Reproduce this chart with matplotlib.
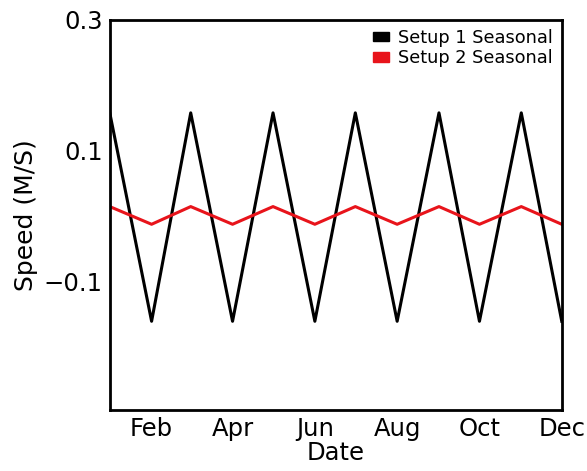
import numpy as np
import pandas as pd
import matplotlib
matplotlib.use("Agg")
import matplotlib.pyplot as plt
import matplotlib.dates as mdates
from matplotlib.patches import Patch

# monthly seasonal component, Jan .. Dec
dates = pd.date_range("2020-01-01", periods=12, freq="MS")
setup1 = [0.158, -0.16, 0.158, -0.16, 0.158, -0.16, 0.158, -0.16, 0.158, -0.16, 0.158, -0.16]
setup2 = [0.015, -0.012, 0.015, -0.012, 0.015, -0.012, 0.015, -0.012, 0.015, -0.012, 0.015, -0.012]

fig = plt.figure(figsize=(5.87, 4.71), dpi=100)
ax = fig.add_axes([0.187, 0.13, 0.770, 0.828])

ax.plot(dates, setup1, color="black", lw=2.2)
ax.plot(dates, setup2, color="#e8141b", lw=2.2)

ax.set_xlim(dates[0], dates[-1])
ax.set_ylim(-0.295, 0.3)
ax.set_yticks([0.3, 0.1, -0.1])
ax.xaxis.set_major_locator(mdates.MonthLocator(bymonth=[2, 4, 6, 8, 10, 12]))
ax.xaxis.set_major_formatter(mdates.DateFormatter("%b"))
ax.tick_params(length=0, labelsize=17.5, pad=5)
for s in ax.spines.values():
    s.set_linewidth(2)

ax.set_xlabel("Date", fontsize=17.5, labelpad=0)
ax.set_ylabel("Speed (M/S)", fontsize=18, labelpad=4)

handles = [Patch(color="black"), Patch(color="#e8141b")]
ax.legend(handles, ["Setup 1 Seasonal", "Setup 2 Seasonal"], loc="upper right",
          frameon=False, fontsize=12.8, handlelength=0.9, handleheight=0.45,
          handletextpad=0.5, borderaxespad=0.1, labelspacing=0.15)

fig.savefig("out.png", dpi=100)
